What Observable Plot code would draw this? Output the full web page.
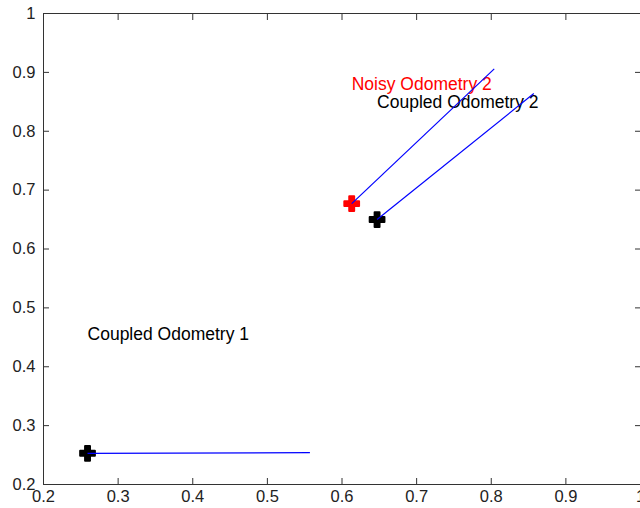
<!DOCTYPE html>
<html>
<head>
<meta charset="utf-8">
<script src="https://cdn.jsdelivr.net/npm/d3@7"></script>
<script src="https://cdn.jsdelivr.net/npm/@observablehq/plot@0.6"></script>
<style>
  html, body { margin: 0; padding: 0; background: #fff; }
  #chart svg { display: block; }
</style>
</head>
<body>
<div id="chart"></div>
<script>
// Data
const names = ["Coupled Odometry 1", "Noisy Odometry 2", "Coupled Odometry 2"];
const markerX = [0.259, 0.613, 0.647];
const markerY = [0.253, 0.677, 0.650];
const colors = ["black", "red", "black"];
const lineEndX = [0.557, 0.804, 0.857];
const lineEndY = [0.254, 0.906, 0.864];
const labelX = [0.259, 0.613, 0.647];
const labelY = [0.455, 0.879, 0.849];
const xTicks = [0.2, 0.3, 0.4, 0.5, 0.6, 0.7, 0.8, 0.9, 1];
const yTicks = [0.2, 0.3, 0.4, 0.5, 0.6, 0.7, 0.8, 0.9, 1];
const tickFmt = d => d === 1 ? "1" : d.toFixed(1);

const rows = names.map((n, i) => ({
  name: n, x: markerX[i], y: markerY[i], color: colors[i],
  x2: lineEndX[i], y2: lineEndY[i], lx: labelX[i], ly: labelY[i]
}));

const axisColor = "#333";
const font = "Liberation Sans, Arial, Helvetica, sans-serif";

const chart = Plot.plot({
  width: 640,
  height: 508,
  marginLeft: 43,
  marginRight: 0,
  marginTop: 13,
  marginBottom: 24,
  style: { fontFamily: font, background: "#fff", overflow: "hidden" },
  x: { domain: [0.2, 1] },
  y: { domain: [0.2, 1] },
  marks: [
    Plot.frame({ stroke: axisColor, strokeWidth: 1 }),
    // tick labels
    Plot.axisX(xTicks, { anchor: "bottom", tickSize: 0, tickPadding: 6, tickFormat: tickFmt, fontSize: 16.5, fill: "#222", label: null }),
    Plot.axisY(yTicks, { anchor: "left", tickSize: 0, tickPadding: 8, tickFormat: tickFmt, fontSize: 16.5, fill: "#222", label: null }),
    // inward ticks on all four sides
    Plot.axisX(xTicks, { anchor: "bottom", tickSize: -6, text: null, stroke: axisColor, label: null }),
    Plot.axisX(xTicks, { anchor: "top", tickSize: -6, text: null, stroke: axisColor, label: null }),
    Plot.axisY(yTicks, { anchor: "left", tickSize: -6, text: null, stroke: axisColor, label: null }),
    Plot.axisY(yTicks, { anchor: "right", tickSize: -6, text: null, stroke: axisColor, label: null }),
    // markers
    Plot.dot(rows, { x: "x", y: "y", symbol: "cross", r: 6.2, fill: d => d.color, stroke: d => d.color, strokeWidth: 2, strokeLinejoin: "round" }),
    // text labels
    Plot.text(rows, { x: "lx", y: "ly", text: "name", fill: d => d.color, textAnchor: "start", lineAnchor: "middle", fontSize: 17.5 }),
    // lines
    Plot.link(rows, { x1: "x", y1: "y", x2: "x2", y2: "y2", stroke: "#0000ff", strokeWidth: 1.2 })
  ]
});
document.getElementById("chart").appendChild(chart);
</script>
</body>
</html>
